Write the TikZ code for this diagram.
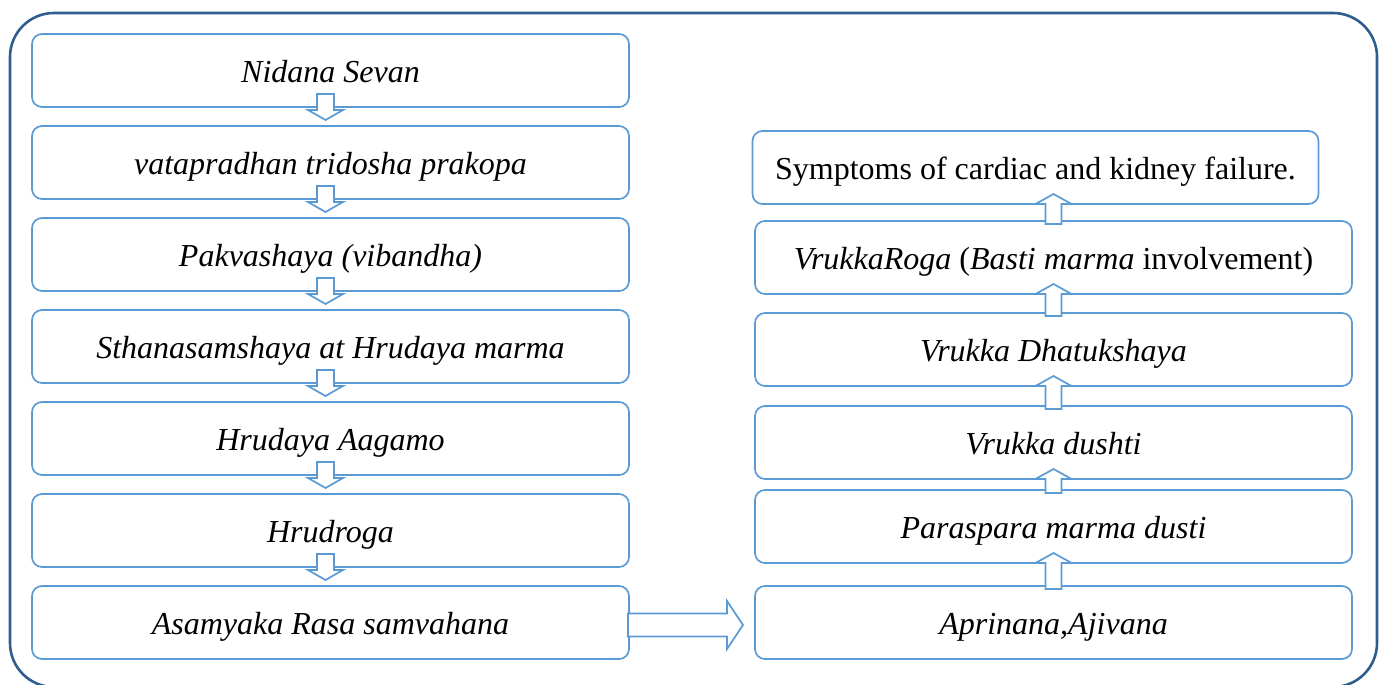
\documentclass[tikz,border=0pt]{standalone}
\usepackage{fontspec}
\setmainfont{Liberation Serif}
\usetikzlibrary{positioning,calc}
\definecolor{BoxBlue}{HTML}{5B9BD5}
\definecolor{FrameBlue}{HTML}{2E5D8E}

\begin{document}
\begin{tikzpicture}[
  node distance=9.5pt and 63pt,
  box/.style={draw=BoxBlue,line width=0.85pt,rounded corners=5pt,align=center,minimum width=298.5pt,minimum height=36.5pt,inner sep=2pt,outer sep=0pt,text height=15pt,text depth=3pt,font=\fontsize{16pt}{19pt}\selectfont\itshape},
  blk/.style={draw=BoxBlue,line width=0.85pt,fill=white,line join=miter}
]
\clip (0,0) rectangle (692pt,-342pt);
\draw[FrameBlue,line width=1.3pt,rounded corners=22pt] (5pt,-6.5pt) rectangle (688.5pt,-343.5pt);
% left column
\node[box] (nidana) at (165.25pt,-35.25pt) {Nidana Sevan};
\node[box,below=of nidana] (tridosha) {vatapradhan tridosha prakopa};
\node[box,below=of tridosha] (pakvashaya) {Pakvashaya (vibandha)};
\node[box,below=of pakvashaya] (sthana) {Sthanasamshaya at Hrudaya marma};
\node[box,below=of sthana] (aagamo) {Hrudaya Aagamo};
\node[box,below=of aagamo] (hrudroga) {Hrudroga};
\node[box,below=of hrudroga] (asamyaka) {Asamyaka Rasa samvahana};
% right column
\node[box,right=of asamyaka] (aprinana) {Aprinana,Ajivana};
\node[box,above=11.5pt of aprinana] (paraspara) {Paraspara marma dusti};
\node[box,above=5.5pt of paraspara] (dushti) {Vrukka dushti};
\node[box,above=10pt of dushti] (dhatukshaya) {Vrukka Dhatukshaya};
\node[box,above=9.5pt of dhatukshaya] (vrukkaroga) {\upshape\textit{VrukkaRoga} (\textit{Basti marma} involvement)};
\node[box,above=8.5pt of vrukkaroga,xshift=-9pt,minimum width=283pt] (symptoms) {\upshape Symptoms of cardiac and kidney failure.};
% block arrows
\foreach \a/\b in {nidana/tridosha,tridosha/pakvashaya,pakvashaya/sthana,sthana/aagamo,aagamo/hrudroga,hrudroga/asamyaka}
  \draw[blk] ($(\a.south)+(-6.75pt,6.5pt)$) -- ($(\a.south)+(-6.75pt,-1.5pt)$) -- ($(\a.south)+(-11.25pt,-1.5pt)$)
    -- ($(\b.north)+(-2.5pt,3pt)$) -- ($(\a.south)+(6.25pt,-1.5pt)$) -- ($(\a.south)+(1.75pt,-1.5pt)$)
    -- ($(\a.south)+(1.75pt,6.5pt)$) -- cycle;
\foreach \a/\b in {aprinana/paraspara,paraspara/dushti,dushti/dhatukshaya,dhatukshaya/vrukkaroga,vrukkaroga/symptoms}
  \draw[blk] ($(\a.north)+(-4pt,-1.5pt)$) -- ($(\a.north |- \b.south)+(-4pt,0)$) -- ($(\a.north |- \b.south)+(-9pt,0)$)
    -- ($(\a.north |- \b.south)+(0,5pt)$) -- ($(\a.north |- \b.south)+(9pt,0)$) -- ($(\a.north |- \b.south)+(4pt,0)$)
    -- ($(\a.north)+(4pt,-1.5pt)$) -- cycle;
\draw[blk] ($(asamyaka.east)+(-0.5pt,4.5pt)$) -- ($(aprinana.west)+(-14pt,4.5pt)$) -- ($(aprinana.west)+(-14pt,10.75pt)$)
  -- ($(aprinana.west)+(-6pt,-1.25pt)$) -- ($(aprinana.west)+(-14pt,-13.25pt)$) -- ($(aprinana.west)+(-14pt,-7pt)$)
  -- ($(asamyaka.east)+(-0.5pt,-7pt)$) -- cycle;
\end{tikzpicture}
\end{document}
